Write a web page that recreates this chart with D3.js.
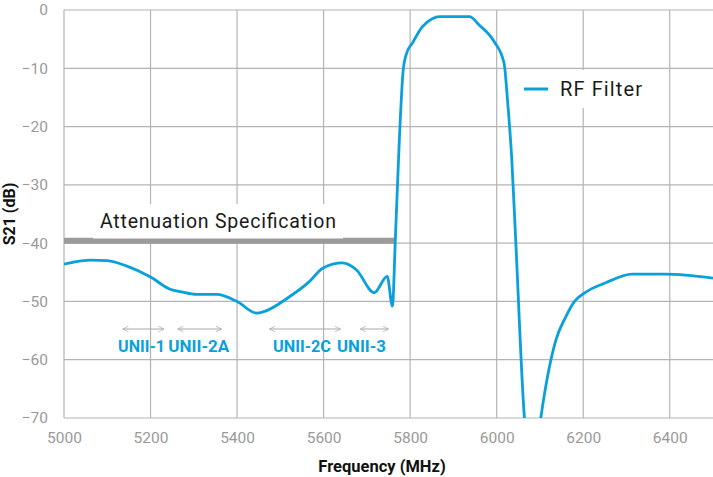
<!DOCTYPE html>
<html lang="en">
<head>
<meta charset="UTF-8">
<title>RF Filter S21</title>
<script src="https://cdn.jsdelivr.net/npm/d3@7"></script>
<style>
  body { margin: 0; background: #fff; }
  text { font-family: Roboto, "Open Sans", sans-serif; }
</style>
</head>
<body>
<script>
// data
var freq = [5000, 5025, 5060, 5100, 5144, 5200, 5245, 5268, 5307, 5353, 5400, 5445, 5460, 5521, 5567, 5598, 5644, 5676, 5717, 5747, 5759, 5766, 5775, 5784, 5792, 5805, 5828, 5851, 5868, 5937, 5960, 5994, 6017, 6025, 6035, 6044, 6064, 6085, 6102, 6137, 6160, 6180, 6206, 6252, 6313, 6390, 6500];
var s21  = [-43.6, -43.2, -42.9, -43.0, -43.9, -45.8, -47.9, -48.3, -48.8, -48.8, -50.0, -52.0, -51.8, -49.2, -46.6, -44.3, -43.4, -44.6, -48.5, -45.7, -50.8, -39.0, -22.3, -10.3, -7.4, -5.7, -2.9, -1.5, -1.15, -1.15, -2.6, -5.4, -9.1, -15.4, -25.7, -39.5, -69.8, -80, -70, -56.6, -52.6, -50.0, -48.4, -46.8, -45.3, -45.3, -46.0];

var specStart = 5000, specEnd = 5765, specLevel = -39.6;

var bandNames = ["UNII-1", "UNII-2A", "UNII-2C", "UNII-3"];
var bandFrom  = [5136, 5263, 5475, 5685];
var bandTo    = [5231, 5364, 5639, 5750];
var bandText  = [5125, 5241, 5483, 5631];   // where each label starts
var bandWidth = [47, 61, 58, 49];           // label widths in px

var xTicks = [5000, 5200, 5400, 5600, 5800, 6000, 6200, 6400];
var yTicks = [0, -10, -20, -30, -40, -50, -60, -70];

var width = 713, height = 477;
var margin = {left: 64, right: 0, top: 10, bottom: 59};
var blue = "#0aa0dc";

var svg = d3.select("body").append("svg")
    .attr("width", width).attr("height", height);

var x = d3.scaleLinear().domain([5000, 6500]).range([margin.left, width - margin.right]);
var y = d3.scaleLinear().domain([-70, 0]).range([height - margin.bottom, margin.top]);

// grid
svg.append("g").selectAll("line").data(xTicks).enter().append("line")
    .attr("x1", d => x(d)).attr("x2", d => x(d))
    .attr("y1", y(0)).attr("y2", y(-70))
    .attr("stroke", "#b4b4b4").attr("stroke-width", 1.2);
svg.append("g").selectAll("line").data(yTicks).enter().append("line")
    .attr("x1", x(5000)).attr("x2", x(6500))
    .attr("y1", d => y(d)).attr("y2", d => y(d))
    .attr("stroke", "#b4b4b4").attr("stroke-width", 1.2);

// tick labels
var xAxis = svg.append("g")
    .attr("transform", "translate(0," + y(-70) + ")")
    .call(d3.axisBottom(x).tickValues(xTicks).tickSize(0).tickPadding(14).tickFormat(d3.format("d")));
xAxis.select(".domain").remove();
xAxis.selectAll("text").attr("fill", "#9a9a9a").attr("font-size", 15.5).attr("font-family", "Roboto");

var yAxis = svg.append("g")
    .attr("transform", "translate(" + margin.left + ",0)")
    .call(d3.axisLeft(y).tickValues(yTicks).tickSize(0).tickPadding(16));
yAxis.select(".domain").remove();
yAxis.selectAll("text").attr("fill", "#9a9a9a").attr("font-size", 15.5).attr("font-family", "Roboto");

// axis titles
svg.append("text")
    .attr("x", 382).attr("y", 472)
    .attr("text-anchor", "middle")
    .attr("font-size", 16.5).attr("font-weight", "bold")
    .attr("fill", "#111")
    .text("Frequency (MHz)");
svg.append("text")
    .attr("transform", "translate(15," + (y(-35)) + ") rotate(-90)")
    .attr("text-anchor", "middle")
    .attr("font-size", 16).attr("font-weight", "bold")
    .attr("fill", "#111")
    .text("S21 (dB)");

// attenuation spec band
svg.append("line")
    .attr("x1", x(specStart)).attr("x2", x(specEnd))
    .attr("y1", y(specLevel)).attr("y2", y(specLevel))
    .attr("stroke", "#9b9b9b").attr("stroke-width", 6);
svg.append("rect")
    .attr("x", 93).attr("y", 204).attr("width", 250).attr("height", 34.5)
    .attr("fill", "#fff");
svg.append("text")
    .attr("x", 100).attr("y", 228)
    .attr("font-size", 19.5)
    .attr("fill", "#1a1a1a")
    .attr("textLength", 236)
    .text("Attenuation Specification");

// UNII bands
var defs = svg.append("defs");
defs.append("marker").attr("id", "ah").attr("viewBox", "0 0 10 10")
    .attr("refX", 9).attr("refY", 5).attr("markerWidth", 7).attr("markerHeight", 7)
    .attr("orient", "auto-start-reverse").attr("markerUnits", "userSpaceOnUse")
    .append("path").attr("d", "M1,1 L9,5 L1,9")
    .attr("fill", "none").attr("stroke", "#a8a8a8").attr("stroke-width", 1);

svg.append("g").selectAll("line").data(bandNames).enter().append("line")
    .attr("x1", (d, i) => x(bandFrom[i])).attr("x2", (d, i) => x(bandTo[i]))
    .attr("y1", 329).attr("y2", 329)
    .attr("stroke", "#a8a8a8").attr("stroke-width", 1)
    .attr("marker-start", "url(#ah)").attr("marker-end", "url(#ah)");

svg.append("g").selectAll("text").data(bandNames).enter().append("text")
    .attr("x", (d, i) => x(bandText[i])).attr("y", 352)
    .attr("font-size", 16.5).attr("font-weight", "bold")
    .attr("fill", blue)
    .attr("textLength", (d, i) => bandWidth[i])
    .attr("lengthAdjust", "spacingAndGlyphs")
    .text(d => d);

// curve
svg.append("clipPath").attr("id", "plotclip").append("rect")
    .attr("x", x(5000)).attr("y", y(0)).attr("width", x(6500) - x(5000)).attr("height", y(-70) - y(0));

var line = d3.line()
    .x((d, i) => x(freq[i]))
    .y(d => y(d))
    .curve(d3.curveMonotoneX);

svg.append("path")
    .datum(s21)
    .attr("clip-path", "url(#plotclip)")
    .attr("d", line)
    .attr("fill", "none")
    .attr("stroke", blue)
    .attr("stroke-width", 2.8)
    .attr("stroke-linejoin", "round");

// legend
svg.append("rect").attr("x", 512).attr("y", 70).attr("width", 150).attr("height", 38).attr("fill", "#fff");
svg.append("line").attr("x1", 524).attr("x2", 548).attr("y1", 89).attr("y2", 89)
    .attr("stroke", blue).attr("stroke-width", 3);
svg.append("text").attr("x", 560).attr("y", 96)
    .attr("font-size", 20).attr("fill", "#1a1a1a")
    .attr("textLength", 82)
    .text("RF Filter");
</script>
</body>
</html>
